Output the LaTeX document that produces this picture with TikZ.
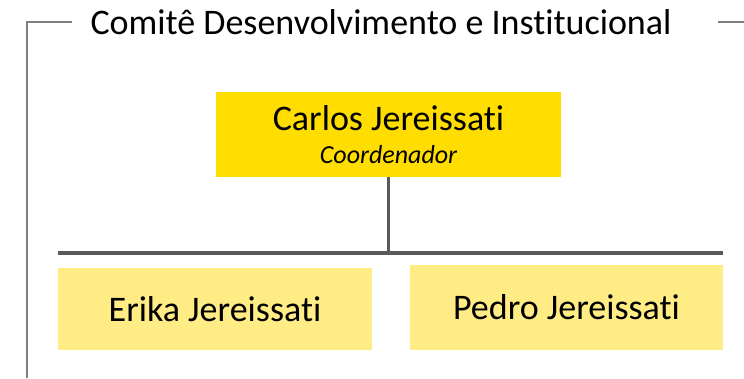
\documentclass[tikz,border=0pt]{standalone}
\usepackage{fontspec}
\setmainfont{Carlito}[Ligatures=CommonOff]
\usetikzlibrary{positioning}
\definecolor{cdgold}{RGB}{255,221,0}
\definecolor{cdlightgold}{RGB}{255,236,133}
\definecolor{cdline}{RGB}{89,89,89}
\definecolor{cdframe}{RGB}{127,127,127}
\tikzstyle{line} = [line width=3.5pt, color=cdline]
\tikzstyle{frame} = [line width=2pt, color=cdframe]
\tikzstyle{coordbox} = [rectangle, minimum width=345pt, minimum height=85pt, text centered, align=center, fill=cdgold, inner sep=0pt]
\tikzstyle{member} = [rectangle, minimum width=314pt, minimum height=82pt, text centered, fill=cdlightgold, inner sep=0pt, font=\fontsize{36}{40}\selectfont]

\begin{document}
\begin{tikzpicture}[x=1pt,y=-1pt]
\useasboundingbox (0,0) rectangle (744,378);
% Frame with title
\node (title) at (381,22) [font=\fontsize{36}{40}\selectfont] {Comitê Desenvolvimento e Institucional};
\draw[frame] (72,22) -- (27,22) -- (27,378);
\draw[frame] (718,22) -- (744,22);

% Coordinator
\node (carlos) [coordbox] at (388.5,134.5) {\fontsize{36}{32}\selectfont Carlos Jereissati\\[13pt] \fontsize{26}{32}\selectfont\itshape Coordenador};

% Members
\node (erika) [member] at (215,309) {Erika Jereissati};
\node (pedro) [member, minimum width=313pt, minimum height=85pt] at (566.5,307.5) {Pedro Jereissati};

% Connections
\coordinate (barL) at (58,253);
\coordinate (barR) at (723,253);
\draw[line] (carlos.south) -- (carlos.south |- barL);
\draw[line] (barL) -- (barR);
\end{tikzpicture}
\end{document}
